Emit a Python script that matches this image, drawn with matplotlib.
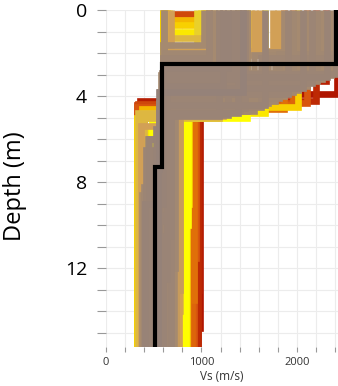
import numpy as np
import matplotlib.pyplot as plt
from matplotlib.colors import LinearSegmentedColormap
from matplotlib.ticker import MultipleLocator

# inverted Vs profiles: top layer, second layer, half-space
# vs1 down to d1, vs2 down to d2, vs3 below; misfit 0 = best
vs1 = [2420, 2300, 600, 2200, 610,                                   # red
       2110, 1960, 620, 605, 1080, 640, 1860,                        # orange
       1050, 1670, 1480, 660, 1000, 600, 1380, 2010, 605, 1030,      # yellow
       1560, 1750, 1230, 1180, 620, 1120, 950, 1280, 1380, 680,
       1610, 1430, 1800, 1330, 1520,                                 # tan
       1030, 1080, 1130, 1180, 1230, 1280, 1330, 1380, 1430, 1480,
       1670, 1860, 1910, 1960, 2010, 2060, 2110, 2160, 2210, 2260,
       2310, 2360, 2410, 2460, 1280, 1380, 1430, 1180, 1230, 1330,
       1080, 2460, 2460, 2460, 605, 610, 1130, 1480, 2460, 2460,
       1405, 1455]                                                   # gray
d1 = [3.9, 3.3, 4.2, 4.2, 4.4,
      4.3, 4.4, 4.5, 4.6, 0.15, 4.7, 4.6,
      0.7, 4.8, 5.0, 5.0, 1.0, 5.6, 4.9, 4.5, 5.2, 0.45,
      2.0, 1.9, 4.9, 5.0, 4.8, 1.3, 2.0, 4.6, 4.5, 5.4,
      2.1, 3.1, 2.0, 4.7, 2.0,
      1.6, 2.0, 2.4, 4.9, 4.7, 4.85, 4.6, 4.8, 4.5, 4.7,
      4.4, 4.0, 3.9, 3.8, 3.7, 3.6, 3.5, 3.4, 3.3, 3.2,
      3.1, 3.0, 2.95, 2.9, 2.7, 3.2, 3.8, 4.2, 3.5, 2.9,
      2.2, 2.1, 2.2, 1.95, 2.6, 3.0, 4.1, 3.9, 2.15, 2.05,
      4.65, 4.55]
vs2 = [985, 970, 360, 960, 325,
       940, 900, 320, 380, 600, 400, 920,
       620, 840, 800, 320, 610, 450, 860, 870, 480, 610,
       640, 700, 720, 780, 335, 620, 600, 740, 680, 370,
       760, 720, 690, 770, 650,
       600, 620, 640, 660, 700, 580, 610, 680, 720, 630,
       590, 650, 610, 570, 600, 640, 620, 590, 660, 600,
       630, 580, 610, 590, 600, 620, 560, 680, 600, 640,
       600, 1545, 1620, 1700, 600, 610, 690, 650, 1765, 1815,
       660, 600]
d2 = [14.8, 13.0, 8.0, 15.65, 7.0,
      11.5, 15.65, 8.5, 7.8, 4.35, 6.5, 13.5,
      4.8, 12.5, 15.65, 15.65, 5.5, 7.2, 10.0, 9.0, 6.8, 4.6,
      7.0, 8.0, 15.65, 14.0, 15.65, 5.0, 6.0, 11.0, 9.0, 15.65,
      15.65, 9.5, 8.5, 13.0, 7.5,
      6.0, 7.0, 8.5, 9.5, 15.65, 6.5, 7.5, 10.5, 12.0, 8.0,
      6.8, 9.0, 7.2, 8.2, 6.2, 9.8, 7.8, 8.8, 10.0, 7.0,
      8.4, 7.6, 9.2, 6.6, 5.5, 6.0, 7.4, 15.65, 9.0, 12.5,
      8.0, 4.7, 4.5, 4.3, 8.6, 9.4, 11.5, 10.8, 4.2, 4.1,
      8.4, 7.3]
vs3 = [790, 960, 330, 965, 320,
       920, 900, 320, 350, 340, 360, 860,
       390, 820, 780, 320, 430, 420, 840, 850, 470, 380,
       500, 480, 700, 650, 335, 400, 360, 680, 600, 370,
       740, 640, 520, 730, 480,
       440, 470, 500, 540, 700, 420, 560, 600, 650, 480,
       510, 450, 530, 400, 580, 460, 520, 490, 610, 430,
       550, 470, 500, 450, 520, 450, 540, 660, 410, 570,
       590, 600, 640, 560, 380, 395, 690, 710, 600, 580,
       520, 460]
misfit = [1.0, 0.97, 0.98, 0.95, 0.93,
          0.85, 0.82, 0.85, 0.8, 0.88, 0.78, 0.8,
          0.6, 0.55, 0.5, 0.55, 0.55, 0.55, 0.5, 0.6, 0.5, 0.65,
          0.3, 0.3, 0.3, 0.35, 0.35, 0.35, 0.4, 0.35, 0.3, 0.3,
          0.3, 0.3, 0.3, 0.25, 0.32,
          0.1, 0.08, 0.1, 0.05, 0.1, 0.06, 0.1, 0.05, 0.08, 0.1,
          0.05, 0.1, 0.06, 0.08, 0.1, 0.05, 0.1, 0.06, 0.08, 0.1,
          0.05, 0.1, 0.06, 0.08, 0.04, 0.05, 0.03, 0.06, 0.04, 0.05,
          0.07, 0.09, 0.07, 0.1, 0.12, 0.1, 0.12, 0.11, 0.09, 0.08,
          0.07, 0.06]

# best (median) model
med_vs = [2405, 585, 515]
med_depth = [2.5, 7.3]

zmax = 15.65

cmap = LinearSegmentedColormap.from_list(
    'misfit', [(0.0, '#8f7f7c'), (0.3, '#d2a056'), (0.5, '#ffff00'),
               (0.7, '#f0a000'), (0.85, '#d8560e'), (1.0, '#b01500')])

fig = plt.figure(figsize=(3.38, 3.86), dpi=100)
ax = fig.add_axes([0.3136, 0.1018, 0.6864, 0.8715])

order = np.argsort(misfit, kind='stable')[::-1]
for i in order:
    v = [vs1[i], vs1[i], vs2[i], vs2[i], vs3[i], vs3[i]]
    z = [0, d1[i], d1[i], d2[i], d2[i], zmax]
    ax.plot(v, z, color=cmap(misfit[i]), lw=4.8, solid_joinstyle='miter',
            solid_capstyle='butt', zorder=2)

v = [med_vs[0], med_vs[0], med_vs[1], med_vs[1], med_vs[2], med_vs[2]]
z = [0, med_depth[0], med_depth[0], med_depth[1], med_depth[1], zmax]
ax.plot(v, z, color='black', lw=3, solid_joinstyle='miter', zorder=3)

ax.set_xlim(0, 2430)
ax.set_ylim(zmax, 0)
ax.xaxis.set_major_locator(MultipleLocator(1000))
ax.xaxis.set_minor_locator(MultipleLocator(200))
ax.yaxis.set_major_locator(MultipleLocator(4))
ax.yaxis.set_minor_locator(MultipleLocator(1))
ax.grid(True, which='both', color='#ececec', lw=0.8, zorder=0)
ax.set_axisbelow(True)
for s in ax.spines.values():
    s.set_visible(False)

ax.tick_params(axis='y', which='both', length=6.5, width=0.8, color='#999999',
               pad=7, labelsize=14)
ax.tick_params(axis='x', which='both', length=3.6, width=0.8, color='#999999',
               pad=4, labelsize=8, labelcolor='#333333')
for lab in ax.get_yticklabels() + ax.get_xticklabels():
    lab.set_family('Open Sans')

ax.set_ylabel('Depth (m)', fontsize=17, family='Open Sans')
ax.yaxis.set_label_coords(-0.34, 0.478)
ax.set_xlabel('Vs (m/s)', fontsize=8.5, family='Open Sans', labelpad=1,
              color='#333333')

fig.savefig('out.png', dpi=100)
